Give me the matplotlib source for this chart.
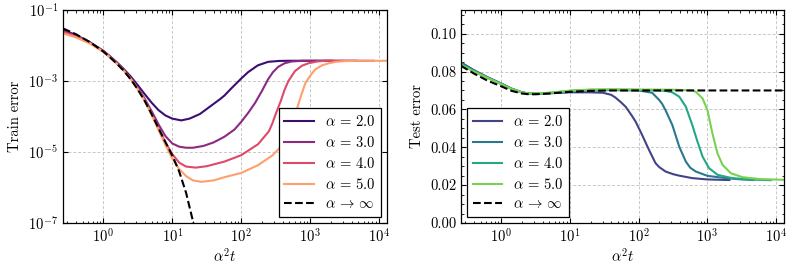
import matplotlib
matplotlib.use("Agg")
import matplotlib.pyplot as plt
import numpy as np
from matplotlib.ticker import LogLocator, MultipleLocator, NullFormatter, FixedLocator, NullLocator


plt.rcParams.update({
    "font.family": "serif",
    "font.serif": ["cmr10"],
    "mathtext.fontset": "cm",
    "axes.formatter.use_mathtext": True,
    "font.size": 10.5,
    "axes.linewidth": 0.9,
    "xtick.direction": "in",
    "ytick.direction": "in",
    "xtick.top": True,
    "ytick.right": True,
    "xtick.major.size": 3.5,
    "ytick.major.size": 3.5,
    "xtick.minor.size": 1.8,
    "ytick.minor.size": 1.8,
    "xtick.minor.visible": True,
})

ALPHAS = [2.0, 3.0, 4.0, 5.0]
XLIM = (0.26, 1.3e4)

# values; x and train y are given as log10 (x = alpha^2 t)
train_logx = {
    2.0: [-0.585, -0.4, -0.2, 0, 0.1, 0.2, 0.3, 0.4, 0.5, 0.6, 0.7, 0.8, 0.9, 1.0, 1.13, 1.25, 1.4, 1.54,
          1.7, 1.756, 1.85, 2.0, 2.1, 2.24, 2.39, 2.55, 2.7, 3.32],
    3.0: [-0.585, -0.4, -0.2, 0, 0.1, 0.2, 0.3, 0.4, 0.5, 0.6, 0.7, 0.8, 0.9, 1.0, 1.1, 1.2, 1.3, 1.45, 1.6,
          1.756, 1.9, 2.0, 2.1, 2.2, 2.3, 2.39, 2.46, 2.537, 2.63, 2.73, 2.9, 3.67],
    4.0: [-0.585, -0.4, -0.2, 0, 0.1, 0.2, 0.3, 0.4, 0.5, 0.6, 0.7, 0.8, 0.9, 1.0, 1.1, 1.2, 1.34, 1.5,
          1.756, 2.0, 2.244, 2.4, 2.45, 2.5, 2.576, 2.63, 2.684, 2.78, 2.88, 2.976, 3.1, 3.22, 3.92],
    5.0: [-0.585, -0.4, -0.2, 0, 0.1, 0.2, 0.3, 0.4, 0.5, 0.6, 0.7, 0.8, 0.9, 1.0, 1.1, 1.2, 1.3, 1.42, 1.6,
          1.756, 2.0, 2.244, 2.45, 2.55, 2.62, 2.675, 2.74, 2.805, 2.87, 2.93, 3.0, 3.07, 3.17, 3.27, 3.37,
          3.5, 3.7, 4.11],
}
train_logy = {
    2.0: [-1.56, -1.70, -1.90, -2.15, -2.31, -2.48, -2.67, -2.88, -3.12, -3.37, -3.61, -3.82, -3.97, -4.06,
          -4.11, -4.06, -3.93, -3.73, -3.50, -3.41, -3.22, -2.93, -2.75, -2.56, -2.46, -2.435, -2.43, -2.43],
    3.0: [-1.59, -1.72, -1.91, -2.16, -2.32, -2.50, -2.70, -2.93, -3.20, -3.50, -3.85, -4.22, -4.55, -4.76,
          -4.85, -4.88, -4.88, -4.83, -4.73, -4.57, -4.37, -4.15, -3.90, -3.62, -3.28, -2.95, -2.75, -2.60,
          -2.50, -2.45, -2.43, -2.43],
    4.0: [-1.62, -1.74, -1.92, -2.17, -2.33, -2.51, -2.71, -2.94, -3.22, -3.54, -3.92, -4.33, -4.73, -5.06,
          -5.30, -5.41, -5.44, -5.40, -5.27, -5.09, -4.78, -4.42, -4.20, -3.93, -3.55, -3.24, -3.00, -2.72,
          -2.57, -2.50, -2.45, -2.43, -2.43],
    5.0: [-1.66, -1.77, -1.94, -2.18, -2.34, -2.52, -2.72, -2.95, -3.23, -3.56, -3.95, -4.38, -4.80, -5.18,
          -5.48, -5.68, -5.80, -5.84, -5.80, -5.71, -5.59, -5.37, -5.10, -4.90, -4.70, -4.48, -4.15, -3.80,
          -3.40, -3.06, -2.85, -2.68, -2.56, -2.50, -2.46, -2.44, -2.43, -2.43],
}
train_inf_logx = [-0.585, -0.4, -0.2, 0, 0.1, 0.2, 0.3, 0.4, 0.5, 0.6, 0.7, 0.8, 0.9, 1.0, 1.1, 1.2, 1.3, 1.4, 1.5]
train_inf_logy = [-1.52, -1.68, -1.90, -2.17, -2.34, -2.52, -2.72, -2.96, -3.24, -3.56, -3.93, -4.33, -4.72,
                  -5.10, -5.55, -6.15, -6.95, -7.9, -9.0]

test_logx = {
    2.0: [-0.585, -0.4, -0.2, 0, 0.15, 0.3, 0.4, 0.5, 0.7, 1.0, 1.3, 1.48, 1.6, 1.66, 1.75, 1.81, 1.9, 1.956,
          2.05, 2.15, 2.245, 2.3, 2.39, 2.5, 2.59, 2.78, 3.0, 3.32],
    3.0: [-0.585, -0.4, -0.2, 0, 0.15, 0.3, 0.4, 0.5, 0.7, 1.0, 1.3, 1.6, 2.0, 2.195, 2.3, 2.34, 2.39, 2.49,
          2.59, 2.686, 2.75, 2.83, 3.0, 3.27, 3.5, 3.67],
    4.0: [-0.585, -0.4, -0.2, 0, 0.15, 0.3, 0.4, 0.5, 0.7, 1.0, 1.3, 1.6, 2.0, 2.3, 2.4, 2.49, 2.59, 2.686,
          2.78, 2.855, 2.93, 3.025, 3.15, 3.36, 3.655, 3.92],
    5.0: [-0.585, -0.4, -0.2, 0, 0.15, 0.3, 0.4, 0.5, 0.7, 1.0, 1.3, 1.6, 2.0, 2.5, 2.78, 2.83, 2.93, 3.0,
          3.073, 3.146, 3.22, 3.34, 3.51, 3.76, 4.11],
}
test_y = {
    2.0: [0.0848, 0.0808, 0.0770, 0.0737, 0.0710, 0.0690, 0.0684, 0.0683, 0.0685, 0.0690, 0.0690, 0.0688,
          0.0677, 0.0663, 0.0635, 0.0614, 0.0567, 0.0535, 0.0465, 0.0386, 0.0316, 0.0295, 0.0272, 0.0258,
          0.0250, 0.0237, 0.0230, 0.0227],
    3.0: [0.0845, 0.0806, 0.0769, 0.0736, 0.0709, 0.0690, 0.0684, 0.0683, 0.0686, 0.0696, 0.0701, 0.0702,
          0.0700, 0.0688, 0.0649, 0.0630, 0.0596, 0.0517, 0.0403, 0.0324, 0.0292, 0.0272, 0.0249, 0.0237,
          0.0230, 0.0227],
    4.0: [0.0840, 0.0803, 0.0767, 0.0735, 0.0709, 0.0690, 0.0684, 0.0683, 0.0687, 0.0698, 0.0703, 0.0704,
          0.0703, 0.0700, 0.0697, 0.0690, 0.0667, 0.0614, 0.0517, 0.0430, 0.0350, 0.0289, 0.0254, 0.0237,
          0.0229, 0.0226],
    5.0: [0.0835, 0.0800, 0.0766, 0.0734, 0.0708, 0.0690, 0.0684, 0.0684, 0.0688, 0.0699, 0.0705, 0.0706,
          0.0705, 0.0704, 0.0700, 0.0693, 0.0658, 0.0596, 0.0473, 0.0368, 0.0307, 0.0263, 0.0242, 0.0232,
          0.0228],
}
test_inf_logx = [-0.585, -0.4, -0.2, 0, 0.15, 0.3, 0.4, 0.5, 0.7, 1.0, 1.3, 1.6, 4.11]
test_inf_y = [0.0830, 0.0790, 0.0752, 0.0722, 0.0698, 0.0684, 0.0680, 0.0680, 0.0684, 0.0693, 0.0698,
              0.0700, 0.0700]

train_colors = plt.cm.magma([0.2, 0.4, 0.6, 0.8])
test_colors = plt.cm.viridis([0.2, 0.4, 0.6, 0.8])

fig = plt.figure(figsize=(7.93, 2.69), dpi=100)
ax1 = fig.add_axes([63 / 793, 1 - 223 / 269, 324 / 793, 213 / 269])
ax2 = fig.add_axes([461 / 793, 1 - 223 / 269, 323 / 793, 213 / 269])

for a, c in zip(ALPHAS, train_colors):
    ax1.plot(10 ** np.array(train_logx[a]), 10 ** np.array(train_logy[a]), color=c, lw=1.5,
             label=rf"$\alpha \,=\, {a:.1f}$")
ax1.plot(10 ** np.array(train_inf_logx), 10 ** np.array(train_inf_logy), color="k", lw=1.5, ls="--",
         label=r"$\alpha \,\to\, \infty$")

for a, c in zip(ALPHAS, test_colors):
    ax2.plot(10 ** np.array(test_logx[a]), test_y[a], color=c, lw=1.5, label=rf"$\alpha \,=\, {a:.1f}$")
ax2.plot(10 ** np.array(test_inf_logx), test_inf_y, color="k", lw=1.5, ls="--", label=r"$\alpha \,\to\, \infty$")

for ax in (ax1, ax2):
    ax.set_xscale("log")
    ax.set_xlim(*XLIM)
    ax.xaxis.set_major_locator(FixedLocator([1, 10, 100, 1000, 10000]))
    ax.xaxis.set_minor_locator(LogLocator(base=10, subs=np.arange(2, 10), numticks=20))
    ax.xaxis.set_minor_formatter(NullFormatter())
    ax.set_xlabel(r"$\alpha^2 t$", labelpad=1)
    ax.grid(True, which="major", ls=(0, (3, 2)), color="0.78", lw=0.7)

ax1.set_yscale("log")
ax1.set_ylim(1e-7, 1e-1)
ax1.yaxis.set_major_locator(FixedLocator([1e-7, 1e-5, 1e-3, 1e-1]))
ax1.yaxis.set_minor_locator(NullLocator())
ax1.set_ylabel("Train error")

ax2.set_ylim(0, 0.1125)
ax2.yaxis.set_major_locator(MultipleLocator(0.02))
ax2.yaxis.set_minor_locator(MultipleLocator(0.005))
ax2.yaxis.set_major_formatter(plt.FormatStrFormatter("%.2f"))
ax2.set_ylabel("Test error")

leg_kw = dict(fancybox=False, edgecolor="k", framealpha=1, borderaxespad=0.4, labelspacing=0.4)
l1 = ax1.legend(loc="lower right", **leg_kw)
l2 = ax2.legend(loc="lower left", **leg_kw)
for l in (l1, l2):
    l.get_frame().set_linewidth(0.9)

fig.savefig("out.png", dpi=100)
